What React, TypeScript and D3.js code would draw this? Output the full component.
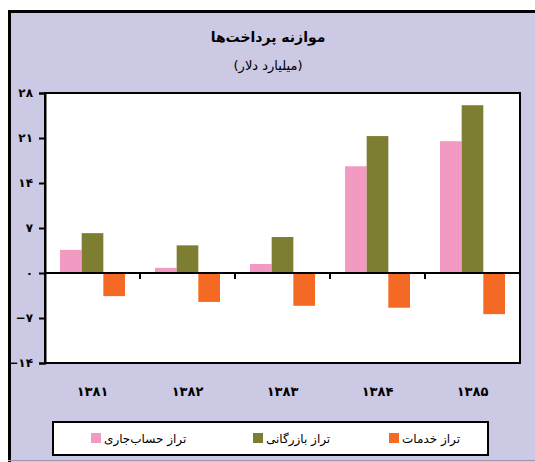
import React, { useEffect, useRef } from 'react';
import * as d3 from 'd3';

const years = ['۱۳۸۱', '۱۳۸۲', '۱۳۸۳', '۱۳۸۴', '۱۳۸۵'];
const seriesNames = ['تراز حساب‌جاری', 'تراز بازرگانی', 'تراز خدمات'];
const seriesColors = ['#F29AC2', '#7E7E32', '#F46A24'];
const currentAccount = [3.6, 0.8, 1.4, 16.6, 20.5];
const tradeBalance = [6.2, 4.3, 5.6, 21.3, 26.1];
const servicesBalance = [-3.6, -4.5, -5.1, -5.4, -6.4];
const yTicks = [28, 21, 14, 7, 0, -7, -14];
const yTickLabels = ['۲۸', '۲۱', '۱۴', '۷', '۰', '−۷', '−۱۴'];

const font = "'DejaVu Sans', sans-serif";

const App = () => {
    const ref = useRef<SVGSVGElement>(null);

    // frame
    const width = 535;
    const height = 462;
    // plot area
    const plot_x0 = 45;
    const plot_x1 = 520;
    const plot_y0 = 93;
    const plot_y1 = 363;
    // legend box
    const legend_x0 = 53;
    const legend_y0 = 422;
    const legend_w = 435;
    const legend_h = 33;

    useEffect(() => {
        const svg = d3.select(ref.current);
        svg.selectAll('*').remove();

        // background
        svg.append('rect')
            .attr('x', 8).attr('y', 10)
            .attr('width', width - 8).attr('height', height - 10)
            .attr('fill', '#CBC9E3');
        svg.append('line')
            .attr('x1', 9.5).attr('x2', 9.5).attr('y1', 10).attr('y2', height)
            .attr('stroke', '#000').attr('stroke-width', 3);
        svg.append('line')
            .attr('x1', 8).attr('x2', width).attr('y1', 11.5).attr('y2', 11.5)
            .attr('stroke', '#000').attr('stroke-width', 3);
        svg.append('line')
            .attr('x1', 8).attr('x2', width).attr('y1', 460.5).attr('y2', 460.5)
            .attr('stroke', '#9a98ad').attr('stroke-width', 1);

        // titles
        svg.append('text')
            .attr('x', 268).attr('y', 42)
            .attr('text-anchor', 'middle')
            .style('font-family', font).style('font-size', '14px').style('font-weight', 'bold')
            .text('موازنه پرداخت‌ها');
        svg.append('text')
            .attr('x', 268).attr('y', 70)
            .attr('text-anchor', 'middle')
            .style('font-family', font).style('font-size', '13px')
            .text('(میلیارد دلار)');

        const xScale = d3.scaleBand<string>()
            .domain(years)
            .range([plot_x0, plot_x1]);
        const inner = d3.scaleBand<number>()
            .domain([0, 1, 2])
            .range([15, xScale.bandwidth() - 15]);
        const yScale = d3.scaleLinear()
            .domain([-14, 28])
            .range([plot_y1, plot_y0]);

        svg.append('rect')
            .attr('x', plot_x0).attr('y', plot_y0)
            .attr('width', plot_x1 - plot_x0).attr('height', plot_y1 - plot_y0)
            .attr('fill', '#fff');

        const series = [currentAccount, tradeBalance, servicesBalance];
        series.forEach((vals, si) => {
            svg.append('g').selectAll('rect')
                .data(vals)
                .enter().append('rect')
                .attr('x', (d, i) => (xScale(years[i]) as number) + (inner(si) as number))
                .attr('y', d => yScale(Math.max(0, d)))
                .attr('width', inner.bandwidth())
                .attr('height', d => Math.abs(yScale(d) - yScale(0)))
                .attr('fill', seriesColors[si]);
        });

        // plot border
        svg.append('rect')
            .attr('x', plot_x0).attr('y', plot_y0)
            .attr('width', plot_x1 - plot_x0).attr('height', plot_y1 - plot_y0)
            .attr('fill', 'none').attr('stroke', '#000').attr('stroke-width', 2);

        // y axis
        const yAxis = svg.append('g')
            .attr('transform', `translate(${plot_x0},0)`)
            .call(d3.axisLeft(yScale).tickValues(yTicks).tickSize(6).tickPadding(6)
                .tickFormat((d, i) => yTickLabels[i]));
        yAxis.select('.domain').attr('stroke', '#000').attr('stroke-width', 2);
        yAxis.selectAll('line').attr('stroke', '#000').attr('stroke-width', 2);
        yAxis.selectAll('text')
            .style('font-family', font).style('font-size', '12px').style('font-weight', 'bold')
            .attr('fill', '#000');

        // zero line with category ticks
        const y0 = yScale(0);
        svg.append('line')
            .attr('x1', plot_x0).attr('x2', plot_x1).attr('y1', y0).attr('y2', y0)
            .attr('stroke', '#000').attr('stroke-width', 2);
        svg.append('g').selectAll('line')
            .data(years.slice(1))
            .enter().append('line')
            .attr('x1', d => xScale(d) as number).attr('x2', d => xScale(d) as number)
            .attr('y1', y0).attr('y2', y0 + 6)
            .attr('stroke', '#000').attr('stroke-width', 2);

        // category labels
        svg.append('g').selectAll('text')
            .data(years)
            .enter().append('text')
            .attr('x', d => (xScale(d) as number) + xScale.bandwidth() / 2)
            .attr('y', 396)
            .attr('text-anchor', 'middle')
            .style('font-family', font).style('font-size', '13px').style('font-weight', 'bold')
            .text(d => d);

        // legend
        svg.append('rect')
            .attr('x', legend_x0).attr('y', legend_y0)
            .attr('width', legend_w).attr('height', legend_h)
            .attr('fill', '#fff').attr('stroke', '#000').attr('stroke-width', 2);
        const legendX = [91, 253, 389];
        const legendGroup = svg.append('g').selectAll('g')
            .data(seriesNames)
            .enter().append('g')
            .attr('transform', (d, i) => `translate(${legendX[i]},${legend_y0 + 11})`);
        legendGroup.append('rect')
            .attr('width', 10).attr('height', 10)
            .attr('fill', (d, i) => seriesColors[i]);
        legendGroup.append('text')
            .attr('x', 13).attr('y', 10)
            .attr('text-anchor', 'start')
            .style('font-family', font).style('font-size', '12px')
            .text(d => d);
    }, []);

    return <svg ref={ref} width={width} height={height}
        style={{ position: 'absolute', left: 0, top: 0 }}></svg>;
};

export default App;
